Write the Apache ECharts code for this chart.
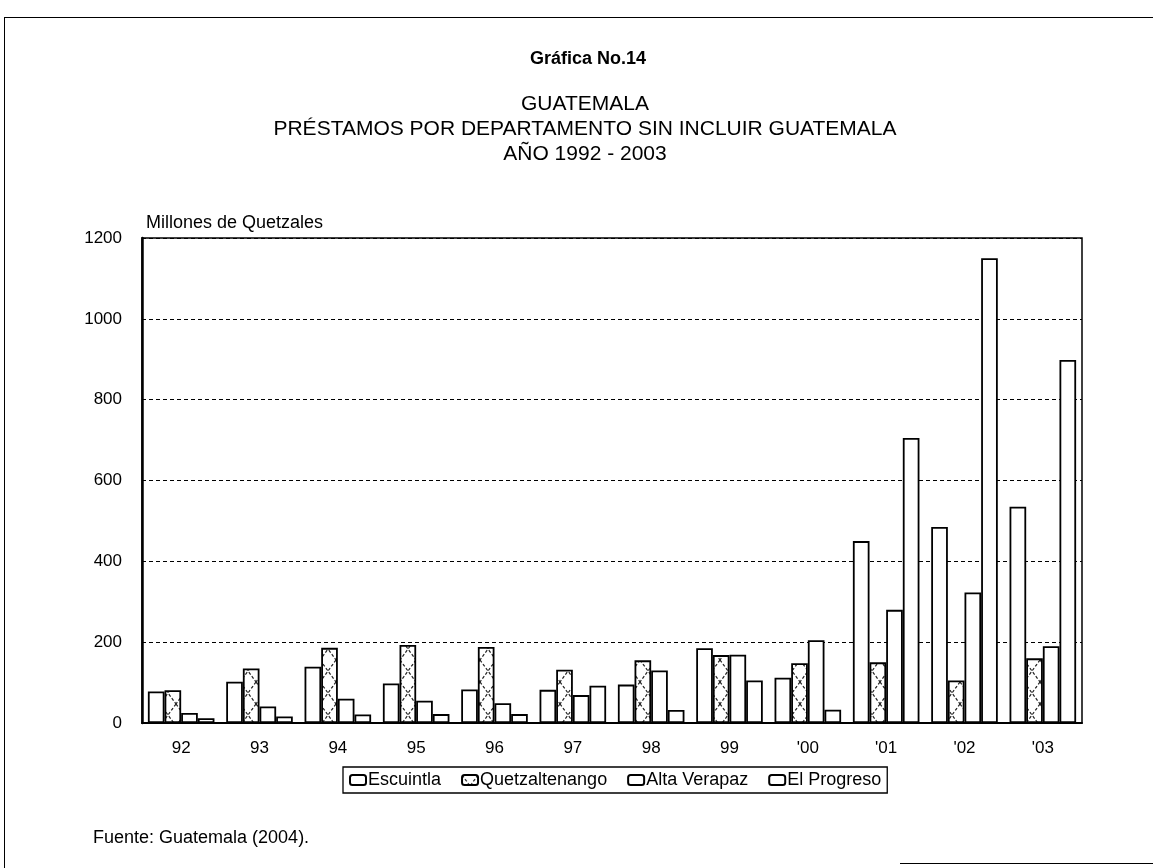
<!DOCTYPE html>
<html>
<head>
<meta charset="utf-8">
<script src="https://cdn.jsdelivr.net/npm/echarts@6/dist/echarts.min.js"></script>
<style>
  html, body { margin: 0; padding: 0; background: #fff; }
  #chart { width: 1153px; height: 868px; }
  .frame { position: absolute; left: 4px; top: 17px; right: 0; bottom: 0;
    border-left: 1.5px solid #000; border-top: 1.5px solid #000; pointer-events: none; }
  .foot { position: absolute; left: 900px; top: 863px; width: 253px; border-top: 1.5px solid #000; }
</style>
</head>
<body>
<div id="chart"></div>
<div class="frame"></div>
<div class="foot"></div>
<script>
const years = ['92', '93', '94', '95', '96', '97', '98', '99', "'00", "'01", "'02", "'03"]
const escuintla = [78, 102, 139, 98, 83, 82, 95, 185, 112, 450, 485, 535]
const quetzaltenango = [81, 135, 186, 193, 188, 132, 155, 168, 148, 150, 105, 160]
const altaVerapaz = [25, 41, 60, 55, 49, 69, 130, 169, 205, 280, 323, 190]
const elProgreso = [12, 16, 21, 22, 22, 92, 32, 105, 33, 705, 1150, 898]
const yTicks = [0, 200, 400, 600, 800, 1000, 1200]

const font = 'Liberation Sans, Arial, sans-serif'

// cross hatch fill for Quetzaltenango
function hatch() {
  const c = document.createElement('canvas')
  c.width = 16
  c.height = 22
  const ctx = c.getContext('2d')
  ctx.fillStyle = '#fff'
  ctx.fillRect(0, 0, 16, 22)
  ctx.strokeStyle = '#222'
  ctx.lineWidth = 1.2
  ctx.setLineDash([3, 2])
  ctx.beginPath()
  ctx.moveTo(0, 0); ctx.lineTo(16, 22)
  ctx.moveTo(16, 0); ctx.lineTo(0, 22)
  ctx.stroke()
  return c
}

const chart = echarts.init(document.getElementById('chart'))

function barSeries(name, data, fill) {
  return {
    name,
    type: 'bar',
    data,
    barGap: '0%',
    barCategoryGap: '15%',
    itemStyle: { color: fill, borderColor: '#000', borderWidth: 1.8 },
  }
}

const txt = (size, weight) => ({ fontSize: size, fontWeight: weight || 'normal', fontFamily: font, color: '#000' })

chart.setOption({
  animation: false,
  backgroundColor: '#fff',
  textStyle: { fontFamily: font, color: '#000' },
  title: [
    { text: 'Gráfica No.14', left: 583, top: 45, textAlign: 'center', textStyle: txt(18, 'bold') },
    { text: 'GUATEMALA\nPRÉSTAMOS POR DEPARTAMENTO SIN INCLUIR GUATEMALA\nAÑO 1992 - 2003',
      left: 580, top: 87, textAlign: 'center',
      textStyle: { ...txt(21), lineHeight: 25 } },
    { text: 'Millones de Quetzales', left: 141, top: 209, textStyle: txt(18) },
    { text: 'Fuente: Guatemala (2004).', left: 88, top: 824, textStyle: txt(18) },
  ],
  legend: {
    left: 343,
    top: 767,
    itemGap: 20,
    itemWidth: 16,
    itemHeight: 10,
    padding: [4, 6],
    borderColor: '#000',
    borderWidth: 1.3,
    textStyle: { ...txt(18), padding: [0, 0, 0, -3] },
    data: ['Escuintla', 'Quetzaltenango', 'Alta Verapaz', 'El Progreso'],
  },
  grid: {
    left: 142, top: 238, right: 71, bottom: 145,
    show: true, borderColor: '#000', borderWidth: 1.5,
  },
  xAxis: {
    type: 'category',
    data: years,
    axisLine: { lineStyle: { color: '#000', width: 1.8 } },
    axisTick: { show: false },
    axisLabel: { ...txt(17), margin: 17 },
  },
  yAxis: {
    type: 'value',
    min: yTicks[0],
    max: yTicks[yTicks.length - 1],
    interval: 200,
    axisLine: { show: true, lineStyle: { color: '#000', width: 2.5 } },
    axisTick: { show: false },
    axisLabel: { ...txt(17), margin: 20, formatter: (v) => String(v) },
    splitLine: { lineStyle: { color: '#000', type: [4, 3], width: 1 } },
  },
  series: [
    barSeries('Escuintla', escuintla, '#fff'),
    barSeries('Quetzaltenango', quetzaltenango, { image: hatch(), repeat: 'repeat' }),
    barSeries('Alta Verapaz', altaVerapaz, '#fff'),
    barSeries('El Progreso', elProgreso, '#fff'),
  ],
})
</script>
</body>
</html>
